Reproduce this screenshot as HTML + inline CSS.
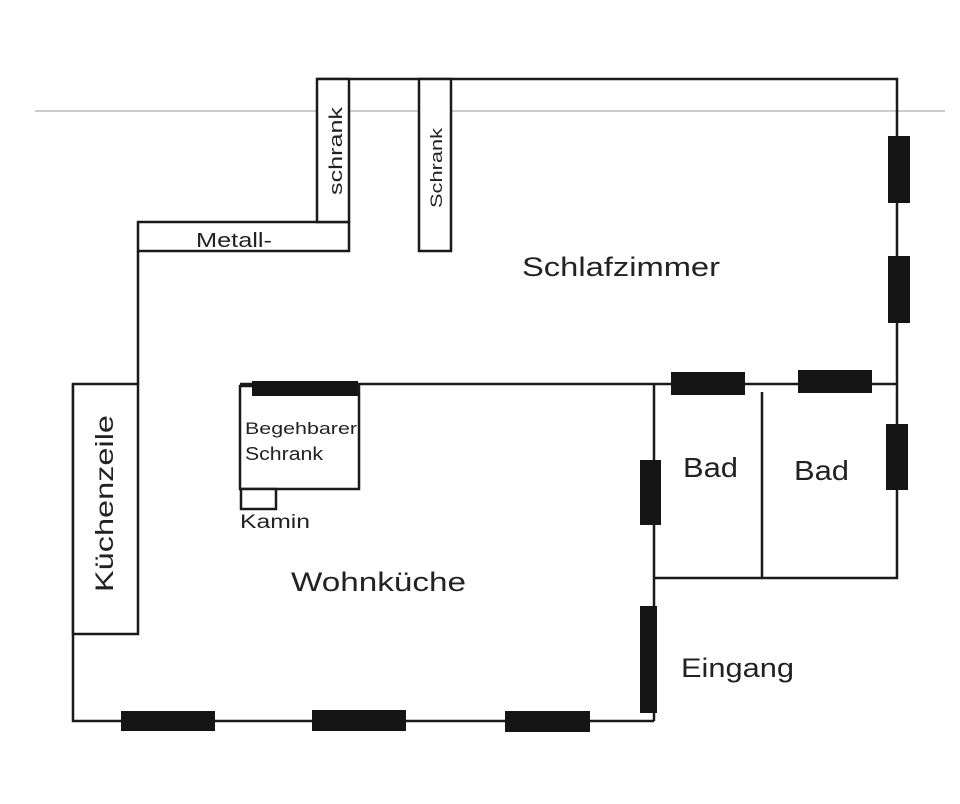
<!DOCTYPE html>
<html><head><meta charset="utf-8"><style>
html,body{margin:0;padding:0;background:#fff;}
svg{display:block;}
text{font-family:"Liberation Sans",sans-serif;fill:#222;}
</style></head><body>
<svg width="960" height="804" viewBox="0 0 960 804" xmlns="http://www.w3.org/2000/svg">
<line x1="35" y1="111" x2="945" y2="111" stroke="#bbb" stroke-width="1.5"/>
<g stroke="#1a1a1a" stroke-width="2.5" fill="none">
<polyline points="317,79 897,79 897,578 654,578"/>
<line x1="654" y1="384" x2="654" y2="721"/>
<polyline points="73,384 73,721 654,721"/>
<line x1="138" y1="251" x2="138" y2="384"/>
<rect x="73" y="384" width="65" height="250" fill="#fff"/>
<rect x="138" y="222" width="211" height="29" fill="#fff"/>
<rect x="317" y="79" width="32" height="143" fill="#fff"/>
<rect x="419" y="79" width="32" height="172" fill="#fff"/>
<line x1="240" y1="384" x2="897" y2="384"/>
<rect x="240" y="386" width="119" height="103" fill="#fff"/>
<rect x="241" y="489" width="35" height="20" fill="#fff"/>
<line x1="762" y1="392" x2="762" y2="578"/>
</g>
<g fill="#151515">
<rect x="888" y="136" width="22" height="67"/>
<rect x="888" y="256" width="22" height="67"/>
<rect x="886" y="424" width="22" height="66"/>
<rect x="252" y="381" width="106" height="15"/>
<rect x="671" y="372" width="74" height="23"/>
<rect x="798" y="370" width="74" height="23"/>
<rect x="640" y="460" width="21" height="65"/>
<rect x="640" y="606" width="17" height="107"/>
<rect x="121" y="711" width="94" height="20"/>
<rect x="312" y="710" width="94" height="21"/>
<rect x="505" y="711" width="85" height="21"/>
</g>
<text x="522" y="276" font-size="27" textLength="198" lengthAdjust="spacingAndGlyphs">Schlafzimmer</text>
<text x="683" y="477" font-size="28" textLength="55" lengthAdjust="spacingAndGlyphs">Bad</text>
<text x="794" y="480" font-size="28" textLength="55" lengthAdjust="spacingAndGlyphs">Bad</text>
<text x="291" y="591" font-size="27" textLength="175" lengthAdjust="spacingAndGlyphs">Wohnküche</text>
<text x="681" y="677" font-size="27" textLength="113" lengthAdjust="spacingAndGlyphs">Eingang</text>
<text x="196" y="247" font-size="20" textLength="76" lengthAdjust="spacingAndGlyphs">Metall-</text>
<text x="245" y="434" font-size="17" textLength="112" lengthAdjust="spacingAndGlyphs">Begehbarer</text>
<text x="245" y="460" font-size="18" textLength="78" lengthAdjust="spacingAndGlyphs">Schrank</text>
<text x="240" y="528" font-size="19" textLength="70" lengthAdjust="spacingAndGlyphs">Kamin</text>
<text transform="translate(113,592) rotate(-90)" font-size="25" textLength="177" lengthAdjust="spacingAndGlyphs">Küchenzeile</text>
<text transform="translate(342,195) rotate(-90)" font-size="18" textLength="88" lengthAdjust="spacingAndGlyphs">schrank</text>
<text transform="translate(442,208) rotate(-90)" font-size="17" textLength="80" lengthAdjust="spacingAndGlyphs">Schrank</text>
</svg>
</body></html>
